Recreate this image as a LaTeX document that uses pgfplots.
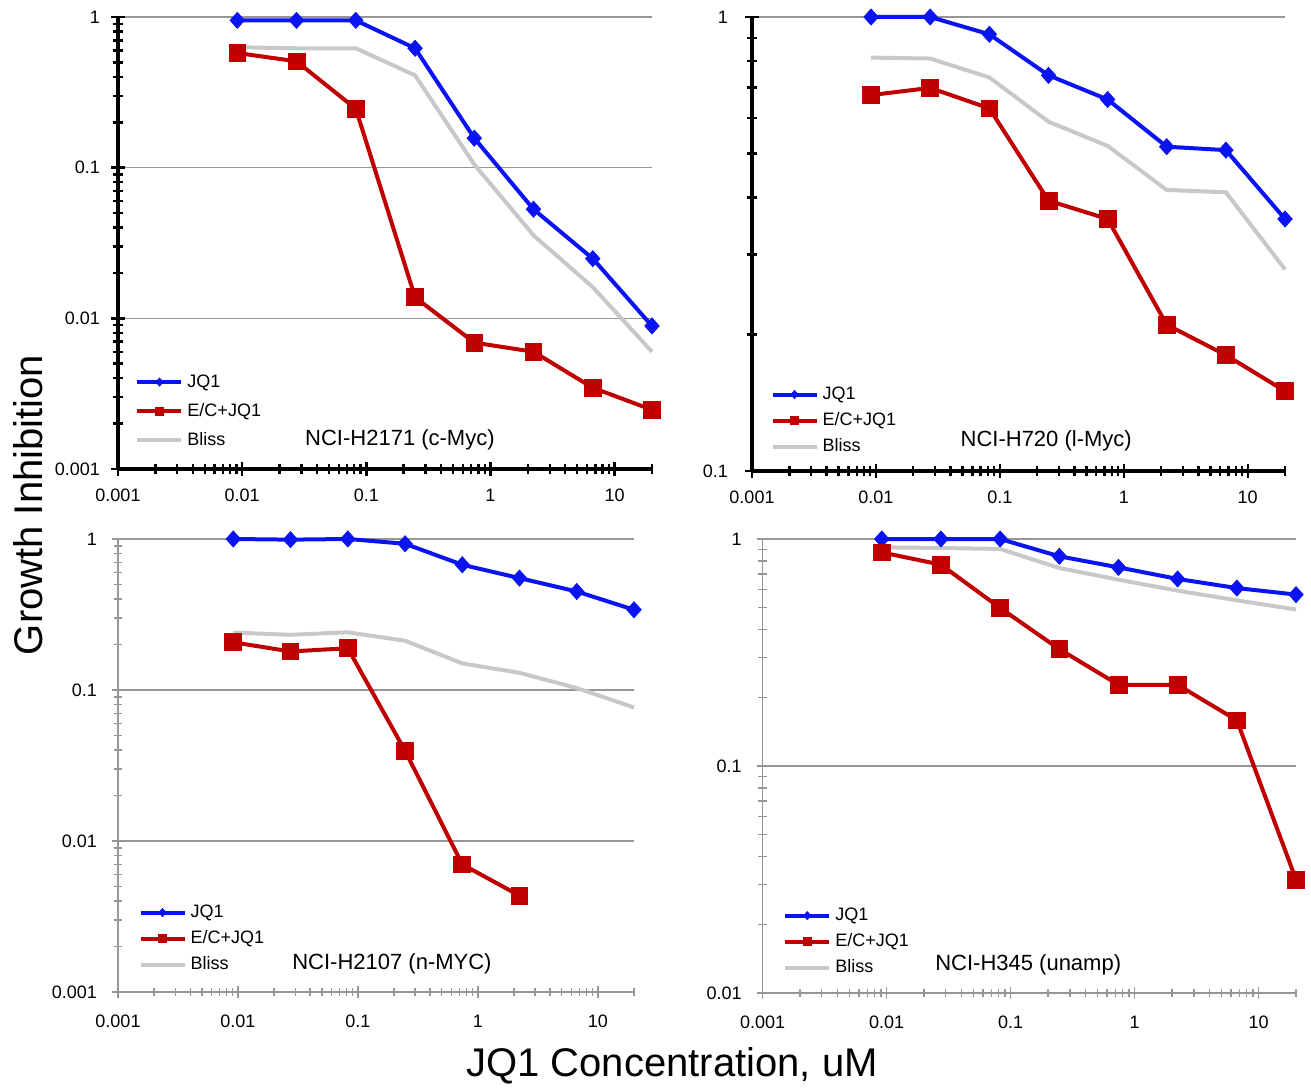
\documentclass[border=0pt]{standalone}
\usepackage{fontspec}
\setmainfont{Liberation Sans}
\usepackage{pgfplots}
\pgfplotsset{compat=1.18}
\definecolor{jqblue}{RGB}{10,20,240}
\definecolor{ecred}{RGB}{192,0,0}
\definecolor{blissgray}{RGB}{200,200,200}
\definecolor{gridgray}{RGB}{150,150,150}
\definecolor{axgray}{RGB}{150,150,150}

\pgfplotsset{
  legend image code/.code={\draw[#1, mark=none] (0pt,0pt) -- (22pt,0pt); \draw[#1, mark size=2pt] plot coordinates {(11pt,0pt)};},
  every axis/.append style={
    scale only axis, xmin=0.001, xmax=20,
    axis lines=left, axis line style={-},
    xtick={0.001,0.01,0.1,1,10}, xticklabels={0.001,0.01,0.1,1,10},
    minor xtick={0.002,0.003,0.004,0.005,0.006,0.007,0.008,0.009,0.02,0.03,0.04,0.05,0.06,0.07,0.08,0.09,0.2,0.3,0.4,0.5,0.6,0.7,0.8,0.9,2,3,4,5,6,7,8,9,20},
    tick align=center,
    ymajorgrids, major grid style={gridgray, line width=0.7pt},
    tick label style={font=\fontsize{9}{10}\selectfont, black},
    clip=false,
    legend cell align=left,
    legend style={draw=none, fill=none, font=\fontsize{9}{10}\selectfont, anchor=north west, inner sep=0pt,
      nodes={inner sep=2pt, text height=7pt, text depth=2pt}},
  },
  myblack/.style={
    axis line style={-, black, line width=1.6pt},
    major tick style={black, line width=1.2pt}, minor tick style={black, line width=1.2pt},
    major tick length=7pt, minor tick length=5.5pt,
    yticklabel style={xshift=-2pt}, xticklabel style={yshift=-3pt},
  },
  mygray/.style={
    axis line style={-, axgray, line width=0.8pt},
    major tick style={axgray, line width=0.7pt}, minor tick style={axgray, line width=0.7pt},
    major tick length=6pt, minor tick length=4.5pt,
    yticklabel style={xshift=-4pt}, xticklabel style={yshift=-5pt},
  },
  myjq/.style={jqblue, line width=2pt, mark=diamond*, mark size=4pt, mark options={solid, fill=jqblue, line width=0.4pt, xscale=1.2}},
  myec/.style={ecred, line width=2pt, mark=square*, mark size=4.2pt, mark options={solid, fill=ecred, line width=0.4pt}},
}

\begin{document}
\begin{tikzpicture}
\useasboundingbox (0,0) rectangle (655.5pt,544pt);

% Panel 1: NCI-H2171
\begin{loglogaxis}[myblack, at={(59pt,309.5pt)}, anchor=south west, width=267pt, height=226pt,
  ymin=0.001, ymax=1, ytick={0.001,0.01,0.1,1}, yticklabels={0.001,0.01,0.1,1},
  minor ytick={0.002,0.003,0.004,0.005,0.006,0.007,0.008,0.009,0.02,0.03,0.04,0.05,0.06,0.07,0.08,0.09,0.2,0.3,0.4,0.5,0.6,0.7,0.8,0.9},
  legend style={at={(0.032,0.222)}, row sep=1.5pt}]
\addplot[blissgray, line width=2pt, no markers, forget plot] coordinates {(0.00914,0.63) (0.0274,0.62) (0.0823,0.62) (0.247,0.41) (0.741,0.105) (2.22,0.0356) (6.67,0.0161) (20,0.0060)};
\addplot[myjq] coordinates {(0.00914,0.95) (0.0274,0.95) (0.0823,0.95) (0.247,0.62) (0.741,0.157) (2.22,0.053) (6.67,0.0249) (20,0.0089)};
\addlegendentry{JQ1}
\addplot[myec] coordinates {(0.00914,0.577) (0.0274,0.508) (0.0823,0.246) (0.247,0.0138) (0.741,0.0069) (2.22,0.0060) (6.67,0.00346) (20,0.00247)};
\addlegendentry{E/C+JQ1}
\addlegendimage{blissgray, line width=2pt, no markers}
\addlegendentry{Bliss}
\node[font=\fontsize{11}{12}\selectfont] at (rel axis cs:0.528,0.064) {NCI-H2171 (c-Myc)};
\end{loglogaxis}

% Panel 2: NCI-H720
\begin{loglogaxis}[myblack, at={(376pt,308.5pt)}, anchor=south west, width=266.5pt, height=227pt,
  ymin=0.1, ymax=1, ytick={0.1,1}, yticklabels={0.1,1},
  minor ytick={0.2,0.3,0.4,0.5,0.6,0.7,0.8,0.9},
  yticklabel style={xshift=-3pt},
  legend style={at={(0.034,0.198)}}]
\addplot[blissgray, line width=2pt, no markers, forget plot] coordinates {(0.00914,0.814) (0.0274,0.810) (0.0823,0.736) (0.247,0.588) (0.741,0.520) (2.22,0.416) (6.67,0.411) (20,0.278)};
\addplot[myjq] coordinates {(0.00914,1.0) (0.0274,1.0) (0.0823,0.916) (0.247,0.744) (0.741,0.658) (2.22,0.518) (6.67,0.509) (20,0.359)};
\addlegendentry{JQ1}
\addplot[myec] coordinates {(0.00914,0.673) (0.0274,0.698) (0.0823,0.629) (0.247,0.394) (0.741,0.359) (2.22,0.210) (6.67,0.180) (20,0.150)};
\addlegendentry{E/C+JQ1}
\addlegendimage{blissgray, line width=2pt, no markers}
\addlegendentry{Bliss}
\node[font=\fontsize{11}{12}\selectfont] at (rel axis cs:0.552,0.066) {NCI-H720 (l-Myc)};
\end{loglogaxis}

% Panel 3: NCI-H2107
\begin{loglogaxis}[mygray, at={(59pt,48pt)}, anchor=south west, width=258pt, height=226.5pt,
  ymin=0.001, ymax=1, ytick={0.001,0.01,0.1,1}, yticklabels={0.001,0.01,0.1,1},
  minor ytick={0.002,0.003,0.004,0.005,0.006,0.007,0.008,0.009,0.02,0.03,0.04,0.05,0.06,0.07,0.08,0.09,0.2,0.3,0.4,0.5,0.6,0.7,0.8,0.9},
  legend style={at={(0.039,0.205)}}]
\addplot[blissgray, line width=2pt, no markers, forget plot] coordinates {(0.00914,0.240) (0.0274,0.232) (0.0823,0.241) (0.247,0.212) (0.741,0.150) (2.22,0.130) (6.67,0.103) (20,0.0767)};
\addplot[myjq] coordinates {(0.00914,1.0) (0.0274,0.99) (0.0823,1.0) (0.247,0.93) (0.741,0.675) (2.22,0.551) (6.67,0.449) (20,0.340)};
\addlegendentry{JQ1}
\addplot[myec] coordinates {(0.00914,0.207) (0.0274,0.180) (0.0823,0.189) (0.247,0.0396) (0.741,0.0070) (2.22,0.00435)};
\addlegendentry{E/C+JQ1}
\addlegendimage{blissgray, line width=2pt, no markers}
\addlegendentry{Bliss}
\node[font=\fontsize{11}{12}\selectfont] at (rel axis cs:0.531,0.062) {NCI-H2107 (n-MYC)};
\end{loglogaxis}

% Panel 4: NCI-H345
\begin{loglogaxis}[mygray, at={(381.3pt,47.5pt)}, anchor=south west, width=266.7pt, height=227pt,
  ymin=0.01, ymax=1, ytick={0.01,0.1,1}, yticklabels={0.01,0.1,1},
  minor ytick={0.02,0.03,0.04,0.05,0.06,0.07,0.08,0.09,0.2,0.3,0.4,0.5,0.6,0.7,0.8,0.9},
  legend style={at={(0.038,0.2)}}]
\addplot[blissgray, line width=2pt, no markers, forget plot] coordinates {(0.00914,0.919) (0.0274,0.913) (0.0823,0.904) (0.247,0.745) (0.741,0.662) (2.22,0.592) (6.67,0.537) (20,0.489)};
\addplot[myjq] coordinates {(0.00914,1.0) (0.0274,1.0) (0.0823,1.0) (0.247,0.839) (0.741,0.750) (2.22,0.667) (6.67,0.608) (20,0.569)};
\addlegendentry{JQ1}
\addplot[myec] coordinates {(0.00914,0.873) (0.0274,0.771) (0.0823,0.497) (0.247,0.327) (0.741,0.228) (2.22,0.228) (6.67,0.159) (20,0.0316)};
\addlegendentry{E/C+JQ1}
\addlegendimage{blissgray, line width=2pt, no markers}
\addlegendentry{Bliss}
\node[font=\fontsize{11}{12}\selectfont] at (rel axis cs:0.498,0.062) {NCI-H345 (unamp)};
\end{loglogaxis}

\node[rotate=90, font=\fontsize{20}{22}\selectfont] at (14pt,291.5pt) {Growth Inhibition};
\node[font=\fontsize{20}{22}\selectfont] at (336pt,11pt) {JQ1 Concentration, uM};
\end{tikzpicture}
\end{document}
